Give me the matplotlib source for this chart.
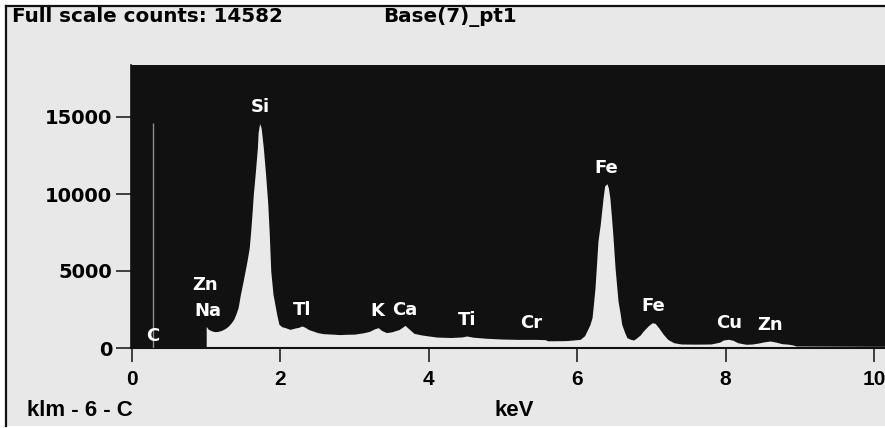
import matplotlib
matplotlib.use("Agg")
import matplotlib.pyplot as plt
from matplotlib.patches import Rectangle
from matplotlib.lines import Line2D

# ---------------- data ----------------
full_scale_counts = 14582
title_left = "Full scale counts: 14582"
title_right = "Base(7)_pt1"
footer_left = "klm - 6 - C"
x_label = "keV"

energy_kev = [1.00, 1.03, 1.08, 1.12, 1.16, 1.21, 1.26, 1.30, 1.34, 1.37, 1.40, 1.43, 1.46,
              1.50, 1.55, 1.58, 1.60, 1.62, 1.635, 1.66, 1.69, 1.70, 1.72, 1.74, 1.77,
              1.80, 1.83, 1.85, 1.87, 1.90, 1.95, 1.98, 2.02, 2.06, 2.13, 2.20, 2.25,
              2.29, 2.33, 2.38, 2.44, 2.50, 2.58, 2.70, 2.80, 2.89, 3.00, 3.12, 3.20,
              3.27, 3.32, 3.36, 3.43, 3.50, 3.60, 3.68, 3.73, 3.80, 3.90, 4.00, 4.11,
              4.30, 4.45, 4.51, 4.60, 4.78, 5.00, 5.20, 5.45, 5.57, 5.60, 5.70, 5.85,
              5.95, 6.04, 6.10, 6.13, 6.17, 6.20, 6.22, 6.24, 6.26, 6.28, 6.31, 6.33,
              6.35, 6.37, 6.40, 6.42, 6.44, 6.46, 6.48, 6.51, 6.55, 6.58, 6.60, 6.64,
              6.67, 6.72, 6.76, 6.80, 6.85, 6.89, 6.96, 7.01, 7.05, 7.10, 7.16, 7.22,
              7.30, 7.40, 7.60, 7.80, 7.92, 7.97, 8.04, 8.10, 8.16, 8.22, 8.28, 8.36,
              8.44, 8.52, 8.60, 8.68, 8.76, 8.84, 8.91, 8.95, 9.50, 10.0, 10.2]
counts = [1400, 1210, 1100, 1060, 1080, 1150, 1280, 1430, 1650, 1860, 2200, 2620, 3450,
          4400, 5650, 6500, 7600, 8900, 9980, 11280, 13010, 14000, 14582, 14300, 13000,
          11300, 9330, 7400, 5000, 3500, 2190, 1540, 1380, 1330, 1210, 1300, 1350,
          1430, 1350, 1200, 1100, 1000, 930, 900, 870, 890, 900, 990, 1080,
          1250, 1320, 1150, 1000, 1050, 1200, 1470, 1250, 950, 850, 780, 710,
          680, 720, 780, 700, 630, 580, 560, 560, 540, 470, 470, 480,
          520, 560, 800, 1100, 1500, 1970, 2900, 3920, 5400, 6950, 8000, 8900,
          9800, 10520, 10670, 10400, 9760, 8600, 7380, 5210, 3050, 2200, 1540, 1000,
          670, 560, 520, 650, 850, 1100, 1450, 1640, 1600, 1300, 890, 560,
          345, 260, 250, 260, 380, 520, 565, 500, 350, 290, 240, 260,
          320, 400, 455, 380, 280, 250, 195, 130, 120, 110, 110]

peak_labels = ["C", "Zn", "Na", "Si", "Tl", "K", "Ca", "Ti", "Cr", "Fe", "Fe", "Cu", "Zn"]
peak_label_kev = [0.28, 0.98, 1.02, 1.73, 2.29, 3.30, 3.68, 4.51, 5.38, 6.39, 7.03, 8.05, 8.60]
peak_label_counts = [800, 4100, 2400, 15650, 2450, 2400, 2450, 1850, 1620, 11680, 2720, 1600, 1480]

c_marker_kev = 0.283

x_ticks = [0, 2, 4, 6, 8, 10]
y_ticks = [0, 5000, 10000, 15000]

# ---------------- figure ----------------
W, H = 885, 428
fig = plt.figure(figsize=(W / 100, H / 100), dpi=100, facecolor="white")

panel_bg = "#e8e8e8"
fig.patches.append(Rectangle((6 / W, 2 / H), 1.0, 1 - 8 / H, transform=fig.transFigure,
                             facecolor=panel_bg, edgecolor="none", zorder=-10))
fig.lines.append(Line2D([5.5 / W, 5.5 / W], [2 / H, 1 - 5.5 / H], transform=fig.transFigure,
                        color="#111111", lw=1.6, zorder=-9))
fig.lines.append(Line2D([5.5 / W, 1.0], [1 - 5.5 / H, 1 - 5.5 / H], transform=fig.transFigure,
                        color="#111111", lw=1.6, zorder=-9))

ax_left_px, ax_bottom_px, ax_top_px = 131, 348, 65
ax = fig.add_axes([ax_left_px / W, 1 - ax_bottom_px / H,
                   (W - ax_left_px) / W, (ax_bottom_px - ax_top_px) / H])
ax.set_zorder(1)
ax.set_facecolor("#111111")

px_per_kev = 74.2
px_per_count = 0.01540
ax.set_xlim(-1 / px_per_kev, (W - 132) / px_per_kev)
ax.set_ylim(0, (ax_bottom_px - ax_top_px) / px_per_count)

ax.fill_between(energy_kev, counts, 0, color="#e9e9e9", lw=0, zorder=2)
ax.vlines(c_marker_kev, 0, full_scale_counts, color="#8c8c8c", lw=1.0, zorder=3)

for lab, xk, yc in zip(peak_labels, peak_label_kev, peak_label_counts):
    ax.text(xk, yc, lab, color="white", fontsize=13, fontweight="bold",
            family="DejaVu Sans", ha="center", va="center", zorder=4)

for s in ["top", "right"]:
    ax.spines[s].set_visible(False)
ax.spines["left"].set_color("#111111")
ax.spines["bottom"].set_color("#111111")
ax.spines["bottom"].set_linewidth(1.5)
ax.spines["left"].set_linewidth(1.2)

narrow = "Liberation Sans"

ax.set_xticks(x_ticks)
ax.set_xticklabels([str(t) for t in x_ticks], fontsize=15, fontweight="bold", family=narrow)
ax.set_yticks(y_ticks)
ax.set_yticklabels([str(t) for t in y_ticks], fontsize=14, fontweight="bold", family="DejaVu Sans")
ax.tick_params(axis="x", direction="out", length=10, width=1.1, color="#111111", pad=6)
ax.tick_params(axis="y", direction="out", length=10.5, width=1.1, color="#111111", pad=3)

# header / footer text
fig.text(12 / W, 1 - 17 / H, title_left, fontsize=14.3, fontweight="bold",
         family="DejaVu Sans", ha="left", va="center")
fig.text(383 / W, 1 - 17 / H, title_right, fontsize=14.3, fontweight="bold",
         family="DejaVu Sans", ha="left", va="center")
fig.text(27 / W, 1 - 410 / H, footer_left, fontsize=16, fontweight="bold",
         family=narrow, ha="left", va="center")
fig.text(514 / W, 1 - 410 / H, x_label, fontsize=16, fontweight="bold",
         family=narrow, ha="center", va="center")

fig.savefig("out.png", dpi=100, facecolor="white")
